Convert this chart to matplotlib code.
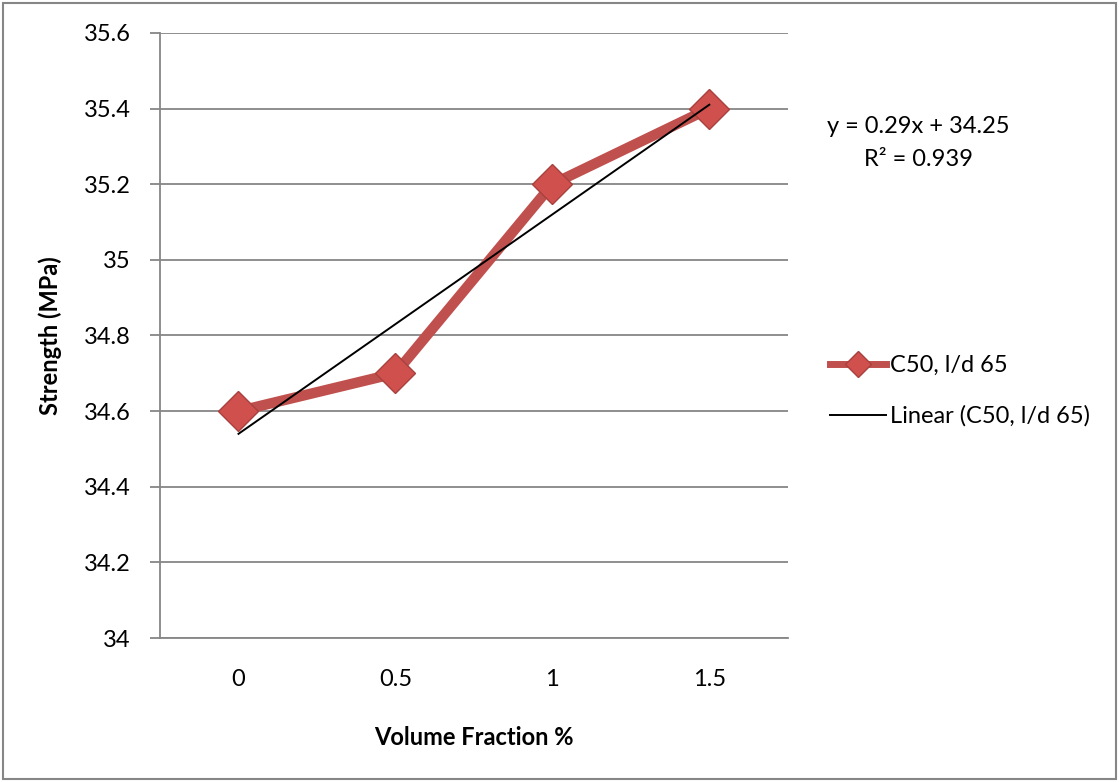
import numpy as np
import matplotlib.pyplot as plt
from matplotlib.patches import Rectangle
from matplotlib.lines import Line2D

plt.rcParams['font.family'] = ['Lato', 'DejaVu Sans']

categories = ['0', '0.5', '1', '1.5']
strength = [34.6, 34.7, 35.2, 35.4]
series_name = 'C50, l/d 65'
yticks = [34, 34.2, 34.4, 34.6, 34.8, 35, 35.2, 35.4, 35.6]

x = np.arange(len(categories))
# excel-style linear trendline, x counted 1..n
xn = x + 1
slope, icpt = np.polyfit(xn, strength, 1)
fit = slope * xn + icpt
r2 = 1 - np.sum((np.array(strength) - fit) ** 2) / np.sum((np.array(strength) - np.mean(strength)) ** 2)
r2_txt = f'{np.floor(r2 * 1000) / 1000:.3f}'

fs = 17
fig = plt.figure(figsize=(11.19, 7.82), dpi=100)
ax = fig.add_axes([0.143, 0.184, 0.561, 0.774])

red = '#C0504D'
ax.plot(x, strength, color=red, lw=7.5, solid_capstyle='round', zorder=3)
ax.plot(x, strength, ls='none', marker='D', ms=20, mfc='#D0504D', mec='#A8403D', mew=1, zorder=4)
ax.plot(x, fit, color='black', lw=1.4, zorder=5)

ax.set_xlim(-0.5, 3.5)
ax.set_ylim(34, 35.6)
ax.set_xticks(x)
ax.set_xticklabels(categories)
ax.set_yticks(yticks)
ax.set_yticklabels([f'{v:g}' for v in yticks])
ax.tick_params(axis='x', length=0, pad=22, labelsize=fs)
ax.tick_params(axis='y', length=7, width=1.3, color='#868686', pad=14, labelsize=fs)
ax.yaxis.grid(True, color='#868686', lw=1.3)
ax.set_axisbelow(True)
for s in ['top', 'right']:
    ax.spines[s].set_visible(False)
for s in ['left', 'bottom']:
    ax.spines[s].set_color('#868686')
    ax.spines[s].set_linewidth(1.3)

ax.set_xlabel('Volume Fraction %', fontsize=fs, fontweight='bold', labelpad=26)
ax.set_ylabel('Strength (MPa)', fontsize=fs, fontweight='bold', labelpad=16)

fig.text(0.821, 0.817, f'y = {slope:.2f}x + {icpt:.2f}\nR² = {r2_txt}',
         ha='center', va='center', fontsize=fs, linespacing=1.7)

handles = [
    Line2D([], [], color=red, lw=5, marker='D', ms=13, mfc='#D0504D', mec='#A8403D'),
    Line2D([], [], color='black', lw=1.4),
]
fig.legend(handles, [series_name, f'Linear ({series_name})'], loc='center left',
           bbox_to_anchor=(0.731, 0.500), frameon=False, fontsize=fs,
           handlelength=2.4, handletextpad=0.15, labelspacing=1.25, borderpad=0)

fig.patches.append(Rectangle((0.003, 0.004), 0.994, 0.992, transform=fig.transFigure,
                             fill=False, edgecolor='#868686', lw=1.5))

fig.savefig('out.png', dpi=100)
